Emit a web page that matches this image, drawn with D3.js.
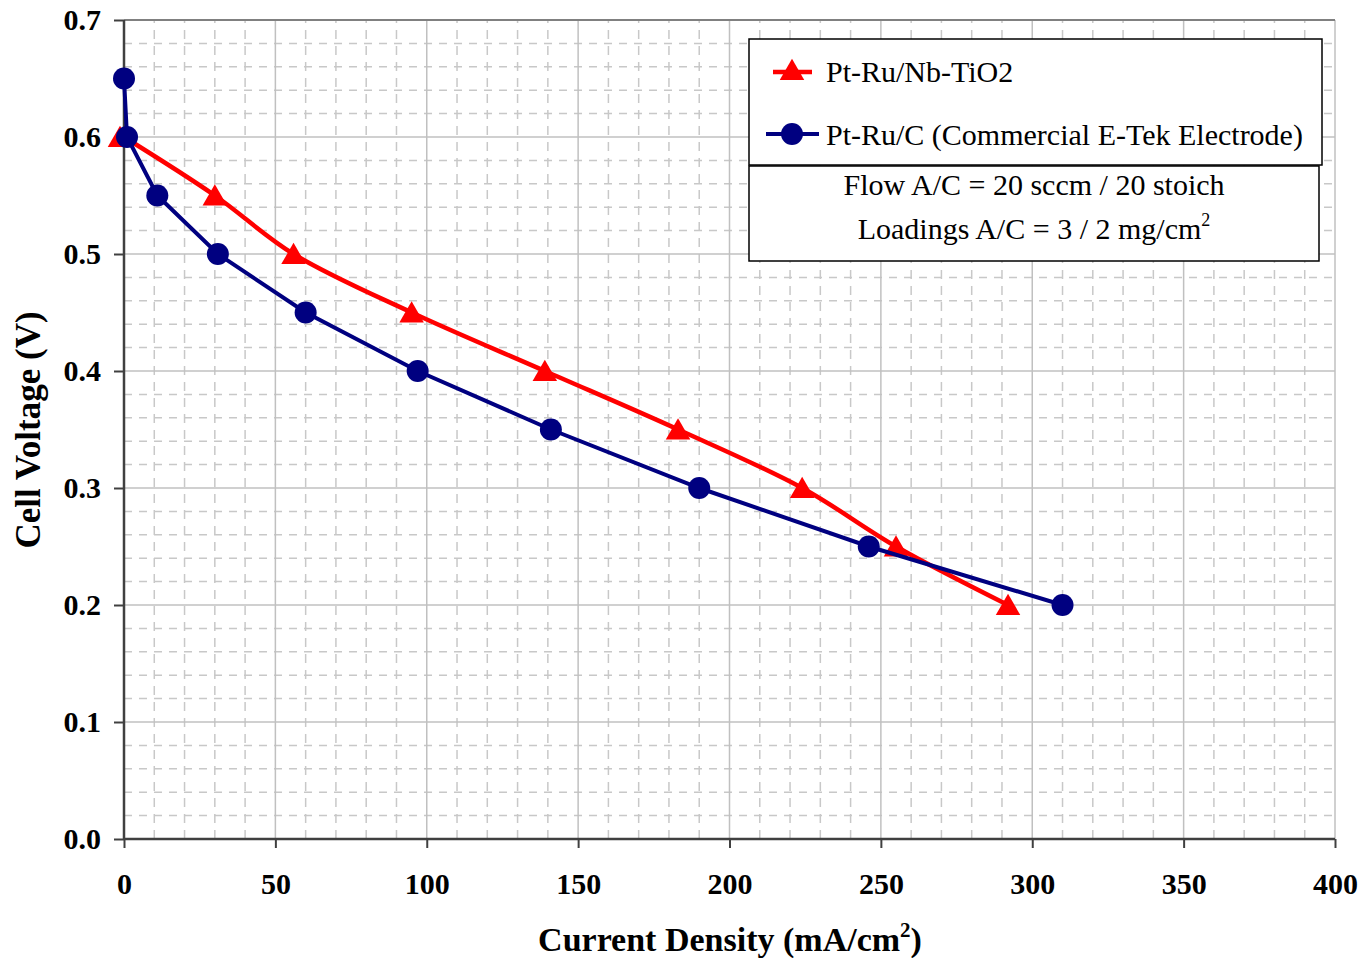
<!DOCTYPE html>
<html>
<head>
<meta charset="utf-8">
<script src="https://cdn.jsdelivr.net/npm/d3@7"></script>
<style>
  body { margin: 0; background: #fff; }
  svg { display: block; font-family: "Liberation Serif", "Times New Roman", serif; }
</style>
</head>
<body>
<svg id="chart" width="1363" height="958"></svg>
<script>
// values
var ptRuNbX = [0, 30, 56, 95, 139, 183, 224, 255, 292];
var ptRuNbY = [0.60, 0.55, 0.50, 0.45, 0.40, 0.35, 0.30, 0.25, 0.20];
var ptRuCX = [0, 1, 11, 31, 60, 97, 141, 190, 246, 310];
var ptRuCY = [0.65, 0.60, 0.55, 0.50, 0.45, 0.40, 0.35, 0.30, 0.25, 0.20];
var xTicks = [0, 50, 100, 150, 200, 250, 300, 350, 400];
var yTicks = [0, 0.1, 0.2, 0.3, 0.4, 0.5, 0.6, 0.7];
var seriesNames = ['Pt-Ru/Nb-TiO2', 'Pt-Ru/C (Commercial E-Tek Electrode)'];
var noteLines = ['Flow A/C = 20 sccm / 20 stoich', 'Loadings A/C = 3 / 2 mg/cm'];

(function () {
  'use strict';
  var svg = d3.select('#chart');
  var x = d3.scaleLinear().domain([0, 400]).range([124, 1335]);
  var y = d3.scaleLinear().domain([0, 0.7]).range([839, 20]);

  var grid = svg.append('g');
  // minor grid, dashed
  grid.selectAll('line.mx').data(d3.range(10, 400, 10).filter(function (v) { return v % 50 !== 0; }))
    .enter().append('line')
    .attr('x1', function (d) { return x(d); }).attr('x2', function (d) { return x(d); })
    .attr('y1', y(0)).attr('y2', y(0.7))
    .attr('stroke', '#c8c8c8').attr('stroke-width', 1.5).attr('stroke-dasharray', '9,7');
  grid.selectAll('line.my').data(d3.range(1, 35).filter(function (i) { return i % 5 !== 0; }))
    .enter().append('line')
    .attr('x1', x(0)).attr('x2', x(400))
    .attr('y1', function (d) { return y(d * 0.02); }).attr('y2', function (d) { return y(d * 0.02); })
    .attr('stroke', '#c8c8c8').attr('stroke-width', 1.5).attr('stroke-dasharray', '8,7');
  // major grid
  grid.selectAll('line.Mx').data(xTicks.slice(1)).enter().append('line')
    .attr('x1', function (d) { return x(d); }).attr('x2', function (d) { return x(d); })
    .attr('y1', y(0)).attr('y2', y(0.7))
    .attr('stroke', '#c0c0c0').attr('stroke-width', 1.5);
  grid.selectAll('line.My').data(yTicks.slice(1, 7)).enter().append('line')
    .attr('x1', x(0)).attr('x2', x(400))
    .attr('y1', function (d) { return y(d); }).attr('y2', function (d) { return y(d); })
    .attr('stroke', '#c0c0c0').attr('stroke-width', 1.5);
  grid.append('line').attr('x1', x(0)).attr('x2', x(400)).attr('y1', y(0.7)).attr('y2', y(0.7))
    .attr('stroke', '#808080').attr('stroke-width', 2);

  // axes
  var xAxis = svg.append('g').attr('transform', 'translate(0,' + y(0) + ')')
    .call(d3.axisBottom(x).tickValues(xTicks).tickSize(9).tickPadding(25).tickFormat(d3.format('d')));
  var yAxis = svg.append('g').attr('transform', 'translate(' + x(0) + ',0)')
    .call(d3.axisLeft(y).tickValues(yTicks).tickSize(10).tickPadding(13).tickFormat(d3.format('.1f')));
  [xAxis, yAxis].forEach(function (a) {
    a.select('.domain').attr('stroke', '#404040').attr('stroke-width', 2.5);
    a.selectAll('.tick line').attr('stroke', '#404040').attr('stroke-width', 2);
    a.selectAll('text').attr('font-family', '"Liberation Serif", serif').attr('font-size', 30)
      .attr('font-weight', 'bold').attr('fill', '#000');
  });
  xAxis.selectAll('.domain').attr('d', 'M' + x(0) + ',0H' + x(400));
  yAxis.selectAll('.domain').attr('d', 'M0,' + y(0) + 'V' + y(0.7));

  // axis titles
  var xt = svg.append('text').attr('x', 730).attr('y', 951).attr('text-anchor', 'middle')
    .attr('font-size', 34).attr('font-weight', 'bold');
  xt.append('tspan').text('Current Density (mA/cm');
  xt.append('tspan').attr('font-size', 21).attr('dy', -14).text('2');
  xt.append('tspan').attr('dy', 14).text(')');
  svg.append('text').attr('transform', 'translate(40,430) rotate(-90)').attr('text-anchor', 'middle')
    .attr('font-size', 35).attr('font-weight', 'bold').text('Cell Voltage (V)');

  // series
  var blue = '#000080', red = '#ff0000';
  var cData = ptRuCX.map(function (v, i) { return [v, ptRuCY[i]]; });
  var nData = ptRuNbX.map(function (v, i) { return [v, ptRuNbY[i]]; });
  var tri = d3.symbol().type(d3.symbolTriangle).size(260);

  svg.append('path').datum(nData)
    .attr('d', d3.line().x(function (d) { return x(d[0]); }).y(function (d) { return y(d[1]); })
      .curve(d3.curveCatmullRom.alpha(0.5)))
    .attr('fill', 'none').attr('stroke', red).attr('stroke-width', 4.5);
  svg.selectAll('path.tri').data(nData).enter().append('path')
    .attr('d', tri).attr('fill', red)
    .attr('transform', function (d) { return 'translate(' + (x(d[0]) - (d[0] === 0 ? 4 : 0)) + ',' + (y(d[1]) + 3) + ')'; });

  svg.append('path').datum(cData)
    .attr('d', d3.line().x(function (d) { return x(d[0]); }).y(function (d) { return y(d[1]); }))
    .attr('fill', 'none').attr('stroke', blue).attr('stroke-width', 4);
  svg.selectAll('circle.c').data(cData).enter().append('circle')
    .attr('cx', function (d) { return x(d[0]); }).attr('cy', function (d) { return y(d[1]); })
    .attr('r', 11).attr('fill', blue);

  // legend
  var lg = svg.append('g');
  lg.append('rect').attr('x', 749).attr('y', 39).attr('width', 573).attr('height', 126)
    .attr('fill', '#fff').attr('stroke', '#000').attr('stroke-width', 1.5);
  lg.append('line').attr('x1', 773).attr('x2', 812).attr('y1', 72).attr('y2', 72)
    .attr('stroke', red).attr('stroke-width', 4.5);
  lg.append('path').attr('d', tri).attr('fill', red).attr('transform', 'translate(792,73)');
  lg.append('line').attr('x1', 766).attr('x2', 819).attr('y1', 134).attr('y2', 134)
    .attr('stroke', blue).attr('stroke-width', 4);
  lg.append('circle').attr('cx', 792).attr('cy', 134).attr('r', 11).attr('fill', blue);
  lg.selectAll('text.s').data(seriesNames).enter().append('text')
    .attr('x', 826).attr('y', function (d, i) { return 82 + i * 63; })
    .attr('font-size', 30).text(function (d) { return d; });

  // note box
  var nb = svg.append('g');
  nb.append('rect').attr('x', 749).attr('y', 166).attr('width', 570).attr('height', 95)
    .attr('fill', '#fff').attr('stroke', '#000').attr('stroke-width', 1.5);
  nb.append('text').attr('x', 1034).attr('y', 195).attr('text-anchor', 'middle')
    .attr('font-size', 30).text(noteLines[0]);
  var n2 = nb.append('text').attr('x', 1034).attr('y', 239).attr('text-anchor', 'middle').attr('font-size', 30);
  n2.append('tspan').text(noteLines[1]);
  n2.append('tspan').attr('font-size', 18).attr('dy', -13).text('2');
})();
</script>
</body>
</html>
